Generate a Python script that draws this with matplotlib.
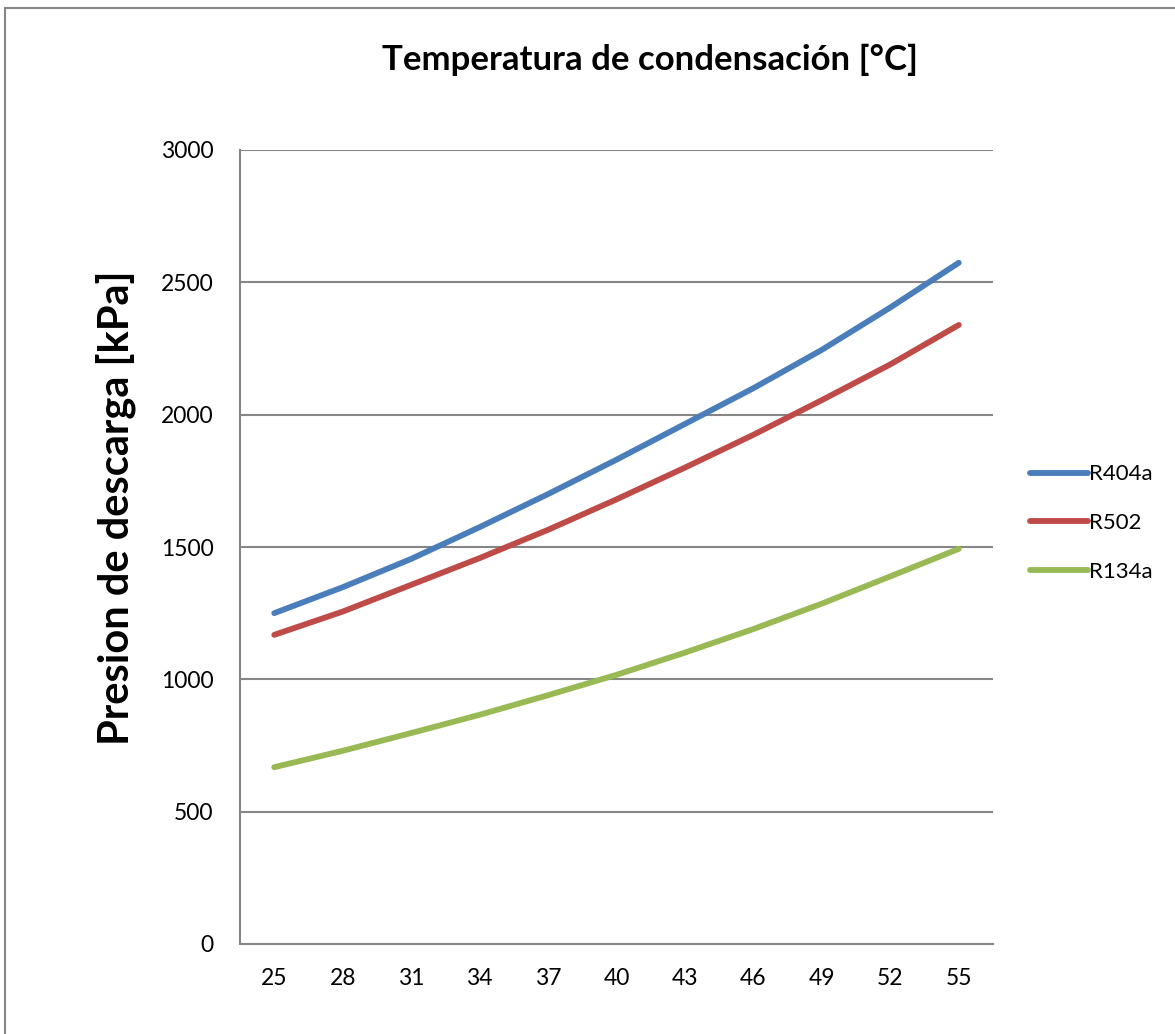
import matplotlib
matplotlib.use("Agg")
import matplotlib.pyplot as plt
from matplotlib.patches import Rectangle

plt.rcParams['font.family'] = ['Lato', 'DejaVu Sans']

# Condensing temperature [°C] and discharge pressure [kPa] per refrigerant
temperatures = ['25', '28', '31', '34', '37', '40', '43', '46', '49', '52', '55']
r404a = [1250, 1348, 1455, 1575, 1700, 1830, 1965, 2100, 2245, 2405, 2574]
r502 = [1168, 1256, 1357, 1458, 1565, 1680, 1800, 1924, 2055, 2190, 2339]
r134a = [668, 730, 797, 866, 940, 1017, 1101, 1190, 1286, 1389, 1493]

series = [('R404a', r404a, '#4a7ebb'),
          ('R502', r502, '#be4b48'),
          ('R134a', r134a, '#98b954')]

fig = plt.figure(figsize=(11.75, 10.34), dpi=100)
ax = fig.add_axes([240 / 1175, 1 - 944 / 1034, 753 / 1175, 794 / 1034])

x = range(len(temperatures))
for name, values, color in series:
    ax.plot(x, values, color=color, lw=4.2, solid_capstyle='round',
            solid_joinstyle='round', label=name)

ax.set_xlim(-0.5, len(temperatures) - 0.5)
ax.set_ylim(0, 3000)
ax.set_yticks(range(0, 3001, 500))
ax.set_xticks(list(x))
ax.set_xticklabels(temperatures)
ax.yaxis.grid(True, color='#868686', lw=1.5)
ax.set_axisbelow(True)
ax.tick_params(length=0, labelsize=16.5)
ax.tick_params(axis='x', pad=17)
ax.tick_params(axis='y', pad=19)
for side in ['top', 'right']:
    ax.spines[side].set_visible(False)
for side in ['left', 'bottom']:
    ax.spines[side].set_color('#868686')
    ax.spines[side].set_linewidth(1.5)

ax.set_ylabel('Presion de descarga [kPa]', fontsize=30, fontweight='bold')
ax.yaxis.set_label_coords(-0.138, 0.55)
fig.text(650 / 1175, 1 - 60 / 1034, 'Temperatura de condensación [°C]',
         fontsize=25, fontweight='bold', ha='center', va='center')

ax.legend(loc='center left', bbox_to_anchor=(1.037, 0.53), frameon=False,
          fontsize=16, handlelength=2.6, handletextpad=0.05,
          labelspacing=1.3, borderaxespad=0)

# chart area outline
fig.patches.append(Rectangle((5 / 1175, -0.01), 1.2, 1 - 8 / 1034 + 0.01,
                             transform=fig.transFigure, fill=False,
                             edgecolor='#868686', lw=1.5))

fig.savefig('out.png', dpi=100)
